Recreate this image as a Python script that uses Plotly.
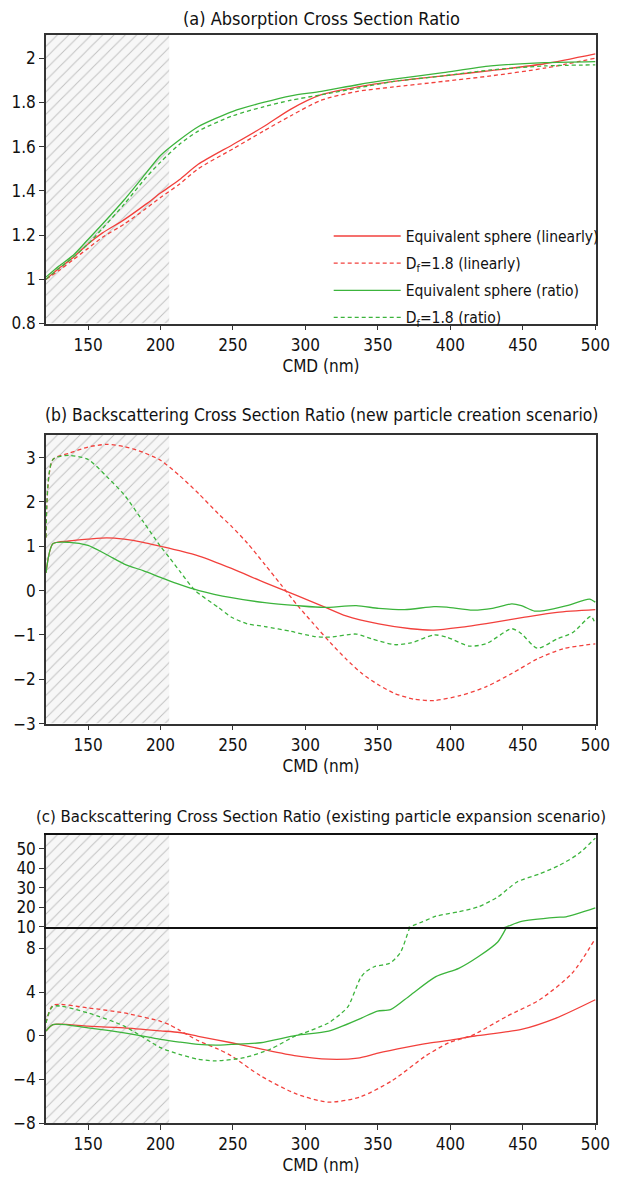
import plotly.graph_objects as go

FONT = "Liberation Sans Narrow, DejaVu Sans Condensed, sans-serif"
RED = "#f2403c"
GREEN = "#3cb43c"
DASH = "4px,3px"

X_RANGE = [121, 500.5]
X_TICKS = [150, 200, 250, 300, 350, 400, 450, 500]
HATCH_X = [121, 206]

LEGEND_NAMES = ["Equivalent sphere (linearly)", "D<sub>f</sub>=1.8 (linearly)",
                "Equivalent sphere (ratio)", "D<sub>f</sub>=1.8 (ratio)"]
TITLES = ["(a) Absorption Cross Section Ratio",
          "(b) Backscattering Cross Section Ratio (new particle creation scenario)",
          "(c) Backscattering Cross Section Ratio (existing particle expansion scenario)"]

# ---------------- panel (a) ----------------
a_x = [121, 130, 140, 150, 160, 175, 190, 200, 213, 226, 250, 271, 290, 311, 336, 361, 395, 428, 465, 500]
a_red_sphere = [1.0, 1.05, 1.10, 1.16, 1.21, 1.27, 1.34, 1.39, 1.45, 1.52, 1.61, 1.69, 1.77, 1.835, 1.87, 1.895, 1.92, 1.944, 1.975, 2.02]
a_red_df = [1.0, 1.04, 1.09, 1.14, 1.19, 1.25, 1.32, 1.37, 1.43, 1.50, 1.59, 1.67, 1.74, 1.81, 1.85, 1.87, 1.895, 1.92, 1.955, 2.0]
a_green_sphere = [1.01, 1.06, 1.11, 1.18, 1.25, 1.36, 1.48, 1.56, 1.63, 1.69, 1.76, 1.80, 1.83, 1.85, 1.88, 1.905, 1.935, 1.965, 1.98, 1.985]
a_green_df = [1.0, 1.05, 1.10, 1.16, 1.23, 1.34, 1.46, 1.53, 1.61, 1.67, 1.74, 1.78, 1.81, 1.835, 1.865, 1.895, 1.92, 1.947, 1.965, 1.97]
A_YRANGE = [0.8, 2.105]

# ---------------- panel (b) ----------------
b_gs_x = [121, 125.8, 137, 150, 163, 175, 188, 200, 213, 226.6, 249, 272, 294.7, 312.6, 335, 350.6, 368.5, 388.7, 397.6, 415.5, 429, 442.4, 449, 458, 464.7, 480.4, 496, 500]
b_green_sphere = [0.40, 1.06, 1.09, 1.02, 0.81, 0.60, 0.45, 0.30, 0.14, 0.0, -0.16, -0.27, -0.34, -0.38, -0.34, -0.40, -0.43, -0.36, -0.37, -0.44, -0.40, -0.30, -0.34, -0.46, -0.45, -0.34, -0.19, -0.26]
b_gd_x = [121, 125.8, 137, 150, 163, 175, 188, 200, 206, 213, 224, 240, 249, 260, 272, 290, 305.6, 316.8, 335, 346, 361.6, 372.8, 388.7, 397.6, 413, 424.6, 442.4, 449, 460, 473.6, 484.8, 497, 500]
b_green_df = [1.2, 2.96, 3.05, 2.96, 2.57, 2.16, 1.56, 1.0, 0.75, 0.45, 0.0, -0.38, -0.60, -0.75, -0.81, -0.92, -1.03, -1.05, -0.98, -1.09, -1.22, -1.18, -1.0, -1.05, -1.25, -1.2, -0.86, -0.97, -1.30, -1.09, -0.94, -0.58, -0.75]
b_rs_x = [121, 125.8, 137, 150, 163, 175, 188, 200, 213, 226.6, 249, 272, 294.7, 312.6, 328, 350.6, 372.8, 388.7, 406.6, 429, 451.4, 473.6, 500]
b_red_sphere = [0.40, 1.06, 1.12, 1.16, 1.19, 1.16, 1.09, 1.0, 0.90, 0.78, 0.50, 0.18, -0.12, -0.36, -0.57, -0.75, -0.86, -0.89, -0.83, -0.72, -0.60, -0.49, -0.43]
b_rd_x = [121, 125.8, 137, 150, 163, 175, 188, 200, 213, 226.6, 240, 249, 260, 272, 283, 294.7, 305.6, 316.8, 328, 339, 350.6, 361.6, 375, 388.7, 406.6, 424.6, 442.4, 460, 478, 500]
b_red_df = [1.2, 2.96, 3.1, 3.24, 3.30, 3.25, 3.12, 2.94, 2.60, 2.18, 1.73, 1.45, 1.07, 0.59, 0.14, -0.34, -0.75, -1.16, -1.54, -1.87, -2.13, -2.32, -2.45, -2.48, -2.37, -2.17, -1.87, -1.54, -1.31, -1.20]
B_YRANGE = [-3, 3.51]

# ---------------- panel (c) ----------------
c_rs_x = [121, 125.8, 150, 175, 200, 213, 226, 249, 269, 293.7, 316, 336, 350, 370, 383, 399, 417, 449, 473, 500]
c_red_sphere = [0.43, 1.03, 0.88, 0.72, 0.45, 0.30, -0.05, -0.64, -1.2, -1.85, -2.15, -2.05, -1.6, -1.05, -0.72, -0.42, -0.02, 0.58, 1.62, 3.3]
c_rd_x = [121, 125.8, 150, 175, 200, 206, 213, 226, 240, 249, 269, 293.7, 316, 338, 360, 383, 399, 415, 439, 461.6, 484, 500]
c_red_df = [1.18, 2.79, 2.55, 2.09, 1.33, 1.03, 0.52, -0.45, -1.24, -1.85, -3.67, -5.33, -6.09, -5.6, -4.1, -1.85, -0.64, 0.03, 1.79, 3.3, 5.73, 8.9]
c_gs_x = [121, 125.8, 150, 175, 200, 213, 226, 240, 249, 269, 293.7, 316, 338.3, 349.7, 358.7, 372.2, 390, 405.8, 419.2, 432.7, 439, 448.4, 473, 479.8, 500]
c_green_sphere = [0.43, 1.03, 0.73, 0.27, -0.33, -0.58, -0.79, -0.85, -0.79, -0.64, 0.03, 0.42, 1.6, 2.27, 2.39, 3.7, 5.42, 6.18, 7.24, 8.6, 10.0, 12.6, 14.8, 15.1, 19.7]
c_gd_x = [121, 125.8, 150, 175, 200, 213, 226, 238, 258, 275.6, 293.7, 299.3, 316, 325, 329.5, 338, 341, 347.5, 358, 365.4, 372.2, 381, 390, 405.8, 419.2, 432.7, 446, 461.6, 475, 488.4, 500]
c_green_df = [1.18, 2.7, 2.09, 0.88, -1.09, -1.7, -2.15, -2.3, -2.0, -1.24, 0.03, 0.27, 1.18, 2.09, 2.7, 5.3, 5.8, 6.33, 6.64, 7.6, 10.0, 12.6, 15.4, 17.7, 20.2, 25.3, 33.0, 37.2, 41.5, 47.5, 55.6]
C_LOW_RANGE = [-8, 10]
C_LOW_TICKS = [-8, -4, 0, 4, 8]
C_UP_RANGE = [10, 57.3]
C_UP_TICKS = [10, 20, 30, 40, 50]

fig = go.Figure()


def add_hatch(xa, ya, yr):
    fig.add_trace(go.Scatter(
        x=[HATCH_X[0], HATCH_X[1], HATCH_X[1], HATCH_X[0], HATCH_X[0]],
        y=[yr[0], yr[0], yr[1], yr[1], yr[0]],
        xaxis=xa, yaxis=ya, mode="lines", line=dict(width=0),
        fill="toself", fillcolor="rgba(0,0,0,0)",
        fillpattern=dict(shape="/", fgcolor="#8a8a8a", bgcolor="#f7f7f7", size=8, solidity=0.12),
        showlegend=False, hoverinfo="skip"))


def add_line(xa, ya, x, y, color, dashed, name, show):
    fig.add_trace(go.Scatter(
        x=x, y=y, xaxis=xa, yaxis=ya, mode="lines", name=name,
        line=dict(color=color, width=1.3, dash=DASH if dashed else "solid",
                  shape="spline", smoothing=0.7),
        showlegend=show, legendgroup=name))


# panel a
add_hatch("x", "y", A_YRANGE)
add_line("x", "y", a_x, a_red_sphere, RED, False, LEGEND_NAMES[0], True)
add_line("x", "y", a_x, a_red_df, RED, True, LEGEND_NAMES[1], True)
add_line("x", "y", a_x, a_green_sphere, GREEN, False, LEGEND_NAMES[2], True)
add_line("x", "y", a_x, a_green_df, GREEN, True, LEGEND_NAMES[3], True)

# panel b
add_hatch("x2", "y2", B_YRANGE)
add_line("x2", "y2", b_rs_x, b_red_sphere, RED, False, LEGEND_NAMES[0], False)
add_line("x2", "y2", b_rd_x, b_red_df, RED, True, LEGEND_NAMES[1], False)
add_line("x2", "y2", b_gs_x, b_green_sphere, GREEN, False, LEGEND_NAMES[2], False)
add_line("x2", "y2", b_gd_x, b_green_df, GREEN, True, LEGEND_NAMES[3], False)

# panel c (lower and upper parts of the broken axis)
for xa, ya, yr in [("x3", "y3", C_LOW_RANGE), ("x4", "y4", C_UP_RANGE)]:
    add_hatch(xa, ya, yr)
    add_line(xa, ya, c_rs_x, c_red_sphere, RED, False, LEGEND_NAMES[0], False)
    add_line(xa, ya, c_rd_x, c_red_df, RED, True, LEGEND_NAMES[1], False)
    add_line(xa, ya, c_gs_x, c_green_sphere, GREEN, False, LEGEND_NAMES[2], False)
    add_line(xa, ya, c_gd_x, c_green_df, GREEN, True, LEGEND_NAMES[3], False)

AX = dict(showline=True, mirror=True, linecolor="#333333", linewidth=1.5,
          ticks="outside", ticklen=5, tickwidth=1.2, tickcolor="#333333",
          showgrid=False, zeroline=False, tickfont=dict(family=FONT, size=17, color="#111"))

XT = dict(text="CMD (nm)", font=dict(family=FONT, size=17, color="#111"), standoff=6)

fig.update_layout(
    width=622, height=1184,
    margin=dict(l=43, r=14, t=35, b=53),
    paper_bgcolor="white", plot_bgcolor="white",
    showlegend=True,
    legend=dict(x=0.514, y=0.8305, xanchor="left", yanchor="top", bgcolor="rgba(0,0,0,0)",
                font=dict(family=FONT, size=15.5, color="#111"), tracegroupgap=4,
                traceorder="grouped", itemwidth=67),
    xaxis=dict(AX, domain=[0, 1], range=X_RANGE, tickvals=X_TICKS, anchor="y", title=XT),
    yaxis=dict(AX, domain=[0.7348, 1.0], range=A_YRANGE, dtick=0.2, tick0=0.8, anchor="x"),
    xaxis2=dict(AX, domain=[0, 1], range=X_RANGE, tickvals=X_TICKS, anchor="y2", title=XT),
    yaxis2=dict(AX, domain=[0.3671, 0.6323], range=B_YRANGE, dtick=1, tick0=-3, anchor="x2"),
    xaxis3=dict(AX, domain=[0, 1], range=X_RANGE, tickvals=X_TICKS, anchor="y3", title=XT,
                mirror=False),
    yaxis3=dict(AX, domain=[0, 0.1804], range=C_LOW_RANGE, tickvals=C_LOW_TICKS, anchor="x3"),
    xaxis4=dict(AX, domain=[0, 1], range=X_RANGE, tickvals=X_TICKS, anchor="y4",
                showticklabels=False, ticks="", linecolor="#111111"),
    yaxis4=dict(AX, domain=[0.1804, 0.2649], range=C_UP_RANGE, tickvals=C_UP_TICKS, anchor="x4"),
)

title_y = [1.0155, 0.6505, 0.2819]
title_size = [18, 17.4, 16.6]
for t, yy, sz in zip(TITLES, title_y, title_size):
    fig.add_annotation(text=t, xref="paper", yref="paper", x=0.5, y=yy,
                       xanchor="center", yanchor="middle", showarrow=False,
                       font=dict(family=FONT, size=sz, color="#111"))

fig.write_html("out.html")
